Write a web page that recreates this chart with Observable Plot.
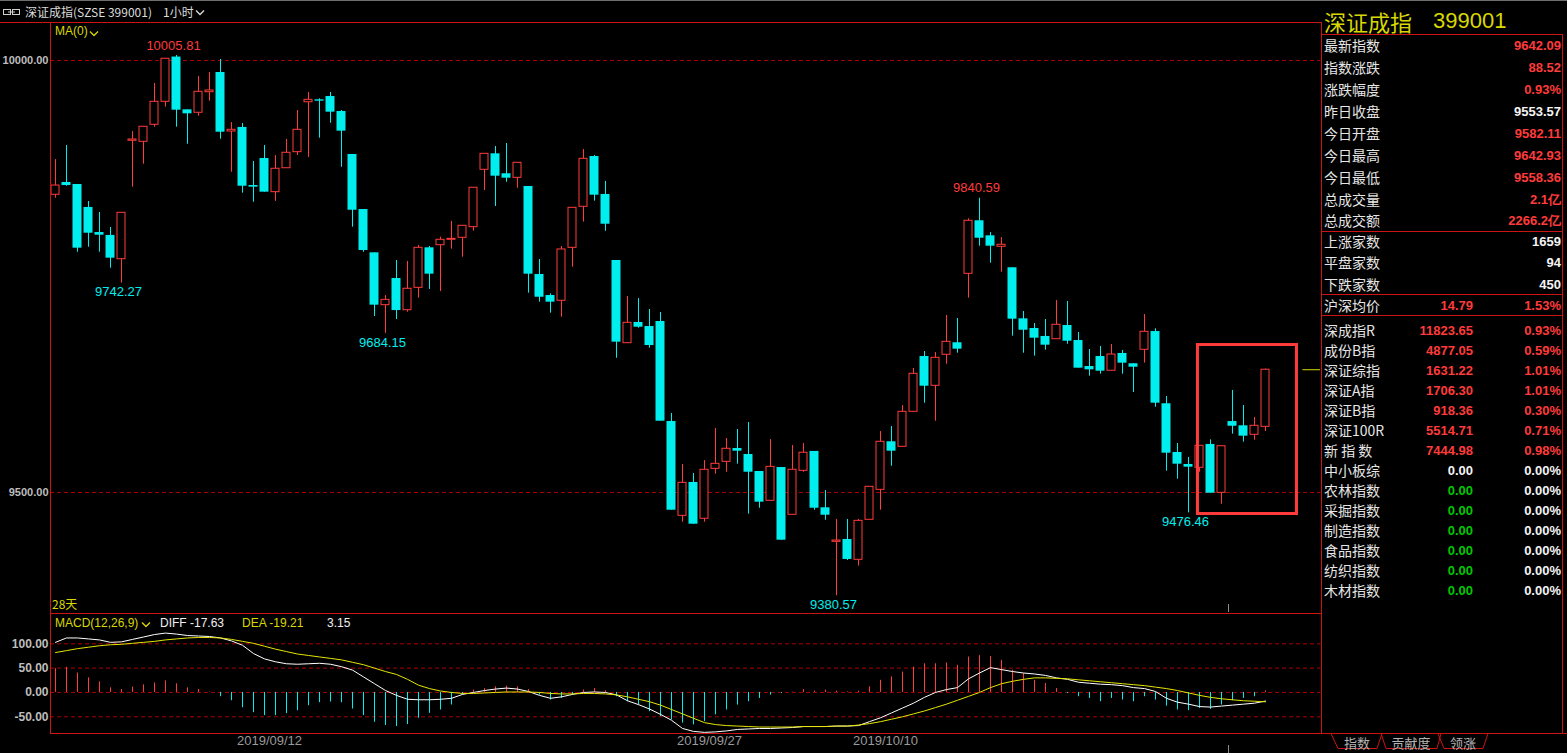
<!DOCTYPE html>
<html><head><meta charset="utf-8">
<script src="https://cdn.jsdelivr.net/npm/d3@7"></script>
<script src="https://cdn.jsdelivr.net/npm/@observablehq/plot@0.6"></script>
<style>
html,body{margin:0;padding:0;background:#000;overflow:hidden}
#root{position:relative;width:1567px;height:753px;background:#000;overflow:hidden}
.abs{position:absolute;white-space:nowrap}
svg.plot{position:absolute;left:0}
</style></head>
<body><div id="root"></div>
<script>
// ---------- hourly candles (index 0..110) ----------
const opens = [
9844.6,9858.8,9856.5,9829.9,9800.9,9797.5,9770.0,9907.1,9905.9,9925.6,
9952.2,10004.0,9942.9,9939.5,9963.3,9986.1,9917.8,9922.5,9855.3,9886.6,
9847.6,9875.3,9893.9,9951.7,9954.5,9958.3,9941.0,9891.2,9827.5,9777.4,
9716.8,9747.7,9711.0,9736.9,9783.2,9786.2,9792.5,9794.8,9807.1,9873.5,
9892.0,9868.9,9864.2,9854.2,9752.3,9728.0,9721.9,9783.2,9830.7,9888.9,
9844.9,9768.5,9672.8,9696.8,9692.1,9697.9,9582.2,9473.0,9511.6,9469.6,
9527.4,9535.5,9550.9,9544.0,9524.3,9490.4,9528.9,9474.2,9525.1,9547.5,
9482.3,9442.9,9445.6,9422.1,9468.4,9503.1,9558.7,9552.9,9593.4,9657.4,
9623.5,9659.4,9673.3,9753.1,9814.5,9797.1,9784.4,9760.1,9701.0,9689.8,
9680.6,9677.4,9693.3,9675.9,9645.8,9657.4,9640.9,9660.9,9649.0,9665.2,
9686.3,9602.7,9546.3,9532.4,9528.6,9555.6,9499.6,9582.11,9577.2,9566.8,
9576.0];
const highs = [
9885.4,9901.6,9856.5,9836.8,9824.1,9806.7,9823.7,9917.8,9923.3,9973.4,
10002.0,10005.81,9942.9,9981.5,9986.1,10001.2,9928.2,9927.1,9883.1,9901.6,
9890.0,9908.6,9942.1,9963.0,9955.7,9963.0,9942.1,9891.2,9827.5,9777.4,
9728.0,9768.5,9767.4,9785.9,9784.7,9795.5,9813.7,9808.7,9852.7,9892.0,
9900.5,9903.9,9881.6,9854.2,9769.7,9730.0,9784.7,9829.5,9897.0,9890.0,
9860.0,9768.5,9726.9,9724.5,9711.8,9708.3,9591.4,9532.4,9522.0,9537.0,
9574.1,9562.5,9572.9,9581.0,9524.3,9561.3,9528.9,9554.4,9556.7,9547.5,
9502.3,9468.8,9468.8,9468.8,9506.6,9570.6,9576.4,9600.7,9643.5,9663.2,
9662.0,9704.9,9701.4,9816.8,9840.59,9800.9,9795.1,9760.1,9709.5,9695.6,
9700.2,9722.2,9721.1,9685.2,9665.5,9669.0,9671.3,9664.4,9649.0,9706.0,
9689.5,9611.1,9556.7,9540.5,9554.1,9561.0,9553.6,9618.1,9600.7,9586.8,
9642.93];
const lows = [
9840.6,9854.5,9778.1,9783.9,9778.1,9759.6,9742.27,9853.4,9880.0,9922.8,
9946.0,9922.8,9903.1,9935.5,9952.9,9908.9,9870.7,9846.4,9836.0,9847.6,
9836.8,9875.3,9890.0,9887.7,9910.1,9927.4,9876.5,9807.1,9778.1,9703.7,
9684.15,9700.2,9708.7,9724.9,9735.0,9732.6,9781.6,9772.3,9802.4,9849.5,
9831.0,9859.1,9852.2,9730.7,9720.3,9707.5,9702.9,9760.8,9812.9,9837.2,
9802.4,9655.4,9672.8,9690.2,9667.0,9582.5,9479.5,9465.6,9463.3,9465.6,
9521.2,9523.5,9532.8,9474.9,9481.8,9490.4,9444.8,9474.2,9523.5,9479.5,
9467.9,9380.57,9421.3,9414.7,9468.4,9479.5,9530.4,9552.9,9593.4,9603.4,
9582.5,9648.5,9661.2,9724.9,9785.1,9765.4,9755.0,9680.9,9661.2,9657.8,
9664.7,9677.4,9671.6,9643.9,9634.6,9636.9,9640.9,9636.9,9615.7,9649.7,
9598.7,9524.7,9515.4,9476.46,9523.5,9499.2,9486.5,9567.5,9558.36,9560.5,
9570.6];
const closes = [
9855.3,9855.3,9782.8,9800.1,9797.8,9771.2,9823.7,9908.6,9923.3,9952.2,
10002.0,9942.5,9938.3,9963.8,9965.3,9917.0,9919.8,9854.5,9853.4,9847.6,
9874.7,9893.2,9919.8,9954.5,9952.9,9940.2,9918.2,9826.7,9780.1,9716.8,
9723.0,9710.6,9735.8,9783.2,9752.7,9792.5,9793.6,9808.7,9852.7,9892.0,
9866.1,9863.8,9881.6,9752.7,9726.0,9720.3,9781.3,9829.5,9886.2,9844.1,
9810.5,9674.0,9696.4,9691.3,9670.1,9582.5,9479.5,9511.2,9463.3,9526.3,
9533.2,9550.6,9547.8,9523.5,9488.8,9529.7,9444.8,9526.3,9546.0,9481.8,
9473.7,9444.4,9422.5,9467.2,9506.6,9558.7,9547.8,9593.4,9637.4,9623.0,
9655.9,9674.4,9665.9,9814.5,9794.3,9785.1,9786.7,9700.6,9687.8,9678.6,
9670.5,9694.1,9675.1,9643.9,9642.0,9640.4,9659.7,9649.7,9645.0,9686.0,
9603.4,9545.5,9532.8,9529.3,9554.1,9499.2,9553.57,9576.7,9565.2,9577.2,
9642.09];

// ---------- MACD(12,26,9) ----------
const diff = [
103,112,112,110,108,103,104,109,114,119,
122,120,117,116,115,112,106,97,80,69,
63,59,58,59,60,58,53,46,32,18,
4,-6,-14,-15,-15,-14,-12,-4,0,4,
7,9,7,2,-6,-12,-9,-4,0,1,
0,-5,-17,-25,-34,-45,-57,-74,-80,-82,
-81,-79,-76,-75,-74,-74,-73,-72,-70,-70,
-70,-69,-69,-68,-60,-52,-42,-32,-22,-10,
0,6,10,28,40,51,47,43,40,38,
35,30,27,21,19,17,16,14,10,8,
2,-12,-20,-24,-29,-30,-28,-26,-24,-22,
-17.63];
const dea = [
82,86,90,93,96,98,99,101,103,105,
108,110,112,113,113,112,109,105,101,95,
89,84,79,76,73,70,67,62,57,50,
43,37,27,15,8,3,0,-2,-2,-1,
0,1,1,1,0,-2,-3,-3,-2,-2,
-3,-5,-9,-14,-19,-26,-35,-44,-53,-62,
-66,-68,-69,-70,-71,-71,-71,-71,-70,-70,
-70,-69,-69,-67,-64,-60,-55,-50,-44,-38,
-31,-24,-16,-8,0,10,18,23,27,30,
30,29,28,26,24,22,20,18,16,14,
11,8,4,-1,-6,-10,-13,-15,-17,-18,
-19.21];
const macd = [
49,51.7,40,30,21.8,9.5,6.1,10.9,15.6,19.7,
23.8,17.7,9.5,6.1,0.8,-8.8,-17,-31.3,-41.5,-47.6,
-47.6,-43.5,-37.4,-27.2,-21,-19.7,-21,-34,-47.6,-61.2,
-68,-70,-66,-53,-42.8,-36,-25.8,-5,4.8,8,
11.6,13,11.6,6,-5.4,-15.6,-12.2,-5.4,4.8,8,
3.4,-8.8,-19,-25.8,-39.4,-49.6,-56.4,-63,-66.6,-60,
-46,-36,-26,-19,-12.2,-5.4,-2,0.5,6,2.7,
4.8,2.7,1.4,2.7,11.6,25,32,42,52,59,
59,60.5,55.8,72.8,76,74,66,45.6,38.8,25,
18.4,8,-2,-8.8,-12.2,-19,-12.2,-15.6,-19,-8.8,
-15.6,-28,-36,-37.4,-32.6,-34.7,-25.8,-17,-12.2,-8.8,
3.15];

// ---------- ticks / labels ----------
const priceTicks = [10000, 9500];
const macdTicks = [100, 50, 0, -50];
const dateBars = [19, 59, 75];
const dateLabels = ["2019/09/12", "2019/09/27", "2019/10/10"];
const peakBars = [11, 84];
const troughBars = [6, 30, 71, 103];
const boxBars = [103.86, 112.86];
const boxPrices = [9475.1, 9670.7];

// ---------- right panel ----------
const quoteLabels = ["最新指数","指数涨跌","涨跌幅度","昨日收盘","今日开盘","今日最高","今日最低","总成交量","总成交额"];
const quoteValues = ["9642.09","88.52","0.93%","9553.57","9582.11","9642.93","9558.36","2.1亿","2266.2亿"];
const breadthLabels = ["上涨家数","平盘家数","下跌家数"];
const breadthValues = ["1659","94","450"];
const avgLabel = "沪深均价", avgValue = "14.79", avgPct = "1.53%";
const idxLabels = ["深成指R","成份B指","深证综指","深证A指","深证B指","深证100R","新 指 数","中小板综","农林指数","采掘指数","制造指数","食品指数","纺织指数","木材指数"];
const idxValues = ["11823.65","4877.05","1631.22","1706.30","918.36","5514.71","7444.98","0.00","0.00","0.00","0.00","0.00","0.00","0.00"];
const idxPcts = ["0.93%","0.59%","1.01%","1.01%","0.30%","0.71%","0.98%","0.00%","0.00%","0.00%","0.00%","0.00%","0.00%","0.00%"];
const tabs = ["指数","贡献度","领涨"];

// ---------- styles ----------
const RED = "#ff3b3b", CYAN = "#00eeee", GRID = "#a80000", FRAME = "#cc1414", YEL = "#d8d800", AX = "#bdbdbd";
const NUM = "'Liberation Sans', Arial, sans-serif";
const CJK = "'Noto Sans CJK SC', sans-serif";
const root = document.getElementById("root");

const bars = opens.map((o, i) => ({i, open: o, high: highs[i], low: lows[i], close: closes[i], up: closes[i] >= o}));
const xDomain = [-5 / 11, 115];

const main = Plot.plot({
  width: 1321, height: 614,
  marginLeft: 50, marginRight: 1, marginTop: 60, marginBottom: 122,
  x: {domain: xDomain, axis: null},
  y: {domain: [9500, 10000], axis: null},
  style: {background: "transparent", overflow: "visible", fontFamily: NUM},
  marks: [
    Plot.ruleY(priceTicks, {stroke: GRID, strokeDasharray: "4,3"}),
    Plot.text(priceTicks, {y: d => d, text: d => d.toFixed(2), frameAnchor: "left", textAnchor: "end", dx: -2, fill: AX, fontSize: 11, fontWeight: "bold"}),
    Plot.ruleX(bars, {x: "i", y1: "low", y2: "high", stroke: d => d.up ? RED : CYAN}),
    Plot.rect(bars.filter(d => !d.up), {x1: d => d.i - 4.5 / 11, x2: d => d.i + 4.5 / 11, y1: "open", y2: "close", fill: CYAN}),
    Plot.rect(bars.filter(d => d.up), {x1: d => d.i - 4 / 11, x2: d => d.i + 4 / 11, y1: "open", y2: "close", fill: "#000", stroke: RED}),
    Plot.text(peakBars, {x: d => d, y: d => highs[d], text: d => highs[d].toFixed(2), fill: RED, dy: -10, dx: -3, fontSize: 13}),
    Plot.text(troughBars, {x: d => d, y: d => lows[d], text: d => lows[d].toFixed(2), fill: CYAN, dy: 9, dx: -3, fontSize: 13}),
    Plot.rect([0], {x1: boxBars[0], x2: boxBars[1], y1: boxPrices[0], y2: boxPrices[1], stroke: RED, strokeWidth: 3, fill: "none"}),
    Plot.ruleY([closes[closes.length - 1]], {x1: closes.length + 2.4, x2: closes.length + 4, stroke: YEL})
  ]
});
main.classList.add("plot");
main.style.top = "0px";
root.appendChild(main);

const macdPlot = Plot.plot({
  width: 1321, height: 140,
  marginLeft: 50, marginRight: 1, marginTop: 30.3, marginBottom: 36.7,
  x: {domain: xDomain, axis: null},
  y: {domain: [-50, 100], axis: null},
  style: {background: "transparent", overflow: "visible", fontFamily: NUM},
  marks: [
    Plot.ruleY(macdTicks, {stroke: GRID, strokeDasharray: "4,3"}),
    Plot.text(macdTicks, {y: d => d, text: d => d.toFixed(2), frameAnchor: "left", textAnchor: "end", dx: -2, fill: AX, fontSize: 12, fontWeight: "bold"}),
    Plot.ruleX(macd, {x: (d, i) => i, y1: 0, y2: d => d, stroke: d => d >= 0 ? RED : CYAN}),
    Plot.line(diff, {x: (d, i) => i, y: d => d, stroke: "#ffffff", strokeWidth: 1}),
    Plot.line(dea, {x: (d, i) => i, y: d => d, stroke: "#e6e600", strokeWidth: 1}),
    Plot.text(dateBars, {x: d => d, text: (d, i) => dateLabels[i], frameAnchor: "bottom", dy: 28, dx: 5, fill: "#9a9a9a", fontSize: 13})
  ]
});
macdPlot.classList.add("plot");
macdPlot.style.top = "613px";
root.appendChild(macdPlot);

// ---------- frame lines ----------
function box(x, y, w, h, color) {
  const d = document.createElement("div");
  d.className = "abs";
  Object.assign(d.style, {left: x + "px", top: y + "px", width: w + "px", height: h + "px", background: color});
  root.appendChild(d);
}
box(0, 0, 1567, 1, "#6e6e6e");
box(0, 22, 1321, 1, FRAME);
box(50, 22, 1, 711, FRAME);
box(50, 613, 1271, 1, FRAME);
box(50, 733, 1517, 1, FRAME);
box(1321, 22, 1, 711, FRAME);
box(1321, 34, 242, 1, FRAME);
box(1562, 34, 1, 699, FRAME);
box(1321, 231, 242, 1, FRAME);
box(1321, 294, 242, 1, FRAME);
box(1321, 315, 242, 1, FRAME);
box(1228, 604, 1, 8, "#8a8a8a");
box(1228, 745, 1, 8, "#8a8a8a");

// ---------- text helper ----------
function put(txt, x, cy, o = {}) {
  const size = o.size || 14, lh = size + 4;
  const d = document.createElement("div");
  d.className = "abs";
  d.textContent = txt;
  Object.assign(d.style, {
    fontSize: size + "px", lineHeight: lh + "px", top: (cy - lh / 2) + "px",
    color: o.color || "#e6e6e6", fontFamily: o.family || CJK, fontWeight: o.weight || 400
  });
  if (o.align === "right") d.style.right = (1567 - x) + "px";
  else if (o.align === "center") { d.style.left = (x - 100) + "px"; d.style.width = "200px"; d.style.textAlign = "center"; }
  else d.style.left = x + "px";
  root.appendChild(d);
  return d;
}
function chevron(x, y, color) {
  const s = document.createElementNS("http://www.w3.org/2000/svg", "svg");
  s.setAttribute("width", 10); s.setAttribute("height", 8);
  s.style.position = "absolute"; s.style.left = x + "px"; s.style.top = y + "px";
  s.innerHTML = `<polyline points="1,1.5 5,5.5 9,1.5" fill="none" stroke="${color}" stroke-width="1.3"/>`;
  root.appendChild(s);
}

// header
const icon = document.createElementNS("http://www.w3.org/2000/svg", "svg");
icon.setAttribute("width", 18); icon.setAttribute("height", 8);
Object.assign(icon.style, {position: "absolute", left: "3px", top: "9px"});
icon.innerHTML = `<rect x="0.5" y="0.5" width="7" height="5" fill="none" stroke="#d0d0d0"/><rect x="9.5" y="0.5" width="7" height="5" fill="none" stroke="#d0d0d0"/><line x1="5" y1="3" x2="12" y2="3" stroke="#d0d0d0"/>`;
root.appendChild(icon);
put("深证成指(SZSE 399001)", 25, 12, {size: 12, color: "#dcdcdc"});
put("1小时", 163, 12, {size: 12, color: "#dcdcdc"});
chevron(195, 9, "#dcdcdc");

put("MA(0)", 55, 31, {size: 12, color: YEL, family: NUM});
chevron(89, 30, YEL);
put("28天", 52, 604, {size: 12, color: YEL});

put("MACD(12,26,9)", 55, 623, {size: 12, color: YEL, family: NUM});
chevron(141, 621, YEL);
put("DIFF -17.63", 160, 623, {size: 12, color: "#f0f0f0", family: NUM});
put("DEA -19.21", 242, 623, {size: 12, color: YEL, family: NUM});
put("3.15", 327, 623, {size: 12, color: "#f0f0f0", family: NUM});

// right panel
put("深证成指", 1324, 21, {size: 22, color: YEL});
put("399001", 1433, 21, {size: 22, color: YEL, family: NUM});
const quoteY = [45, 67, 89, 111, 133, 155, 177, 199, 220];
quoteLabels.forEach((t, k) => {
  put(t, 1324, quoteY[k], {size: 14});
  put(quoteValues[k], 1561, quoteY[k], {size: 13, weight: 700, family: NUM, align: "right", color: k === 3 ? "#f4f4f4" : RED});
});
const breadthY = [241, 262, 284];
breadthLabels.forEach((t, k) => {
  put(t, 1324, breadthY[k], {size: 14});
  put(breadthValues[k], 1561, breadthY[k], {size: 13, weight: 700, family: NUM, align: "right", color: "#f4f4f4"});
});
put(avgLabel, 1324, 305, {size: 14});
put(avgValue, 1473, 305, {size: 13, weight: 700, family: NUM, align: "right", color: RED});
put(avgPct, 1561, 305, {size: 13, weight: 700, family: NUM, align: "right", color: RED});
idxLabels.forEach((t, k) => {
  const y = 330 + k * 20;
  put(t, 1324, y, {size: 14});
  const vColor = k < 7 ? RED : (k === 7 ? "#f4f4f4" : "#00c800");
  put(idxValues[k], 1473, y, {size: 13, weight: 700, family: NUM, align: "right", color: vColor});
  put(idxPcts[k], 1561, y, {size: 13, weight: 700, family: NUM, align: "right", color: k < 7 ? RED : "#f4f4f4"});
});

// bottom tabs
const tabSvg = document.createElementNS("http://www.w3.org/2000/svg", "svg");
tabSvg.setAttribute("width", 1567); tabSvg.setAttribute("height", 20);
Object.assign(tabSvg.style, {position: "absolute", left: "0px", top: "733px"});
tabSvg.innerHTML = `<path d="M1331,0.5 L1338,15.5 L1377,15.5 L1382,0.5 M1381,0.5 L1386,15.5 L1437,15.5 L1441,0.5 M1438,0.5 L1444,15.5 L1483,15.5 L1488,0.5" fill="none" stroke="${FRAME}" stroke-width="1"/>`;
root.appendChild(tabSvg);
const tabX = [1357, 1411, 1463];
tabs.forEach((t, k) => put(t, tabX[k], 742, {size: 13, color: "#b4b4b4", align: "center"}));
</script>
</body></html>
